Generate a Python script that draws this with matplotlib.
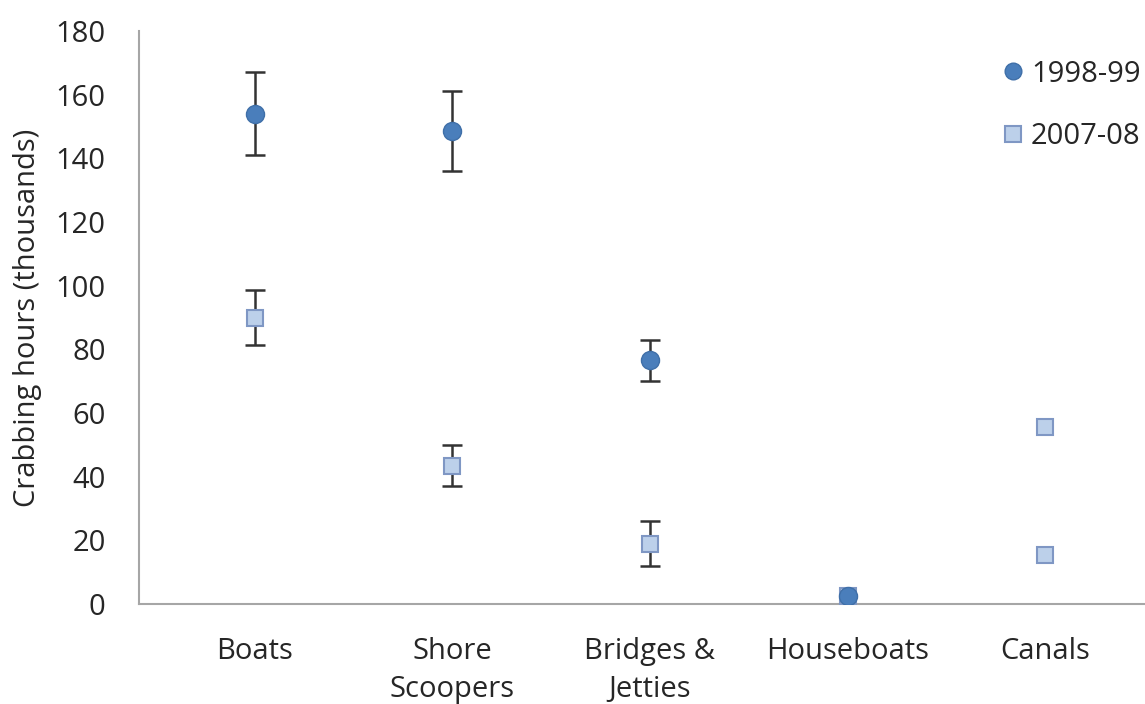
import numpy as np
import matplotlib
matplotlib.use("Agg")
import matplotlib.pyplot as plt
from matplotlib.lines import Line2D

plt.rcParams['font.family'] = ['Open Sans', 'DejaVu Sans']

# Crabbing effort by platform (thousands of hours)
categories = ["Boats", "Shore\nScoopers", "Bridges &\nJetties", "Houseboats", "Canals"]
hours_1998 = [154, 148.5, 76.5, 2.5, np.nan]
err_1998 = [13, 12.6, 6.5, 0, 0]
hours_2007 = [90, 43.5, 19, 2.5, 55.5]
err_2007 = [8.5, 6.5, 7, 0, 0]
canals_extra = [15.5]          # second canal estimate, same marker as 2007-08
yticks = [0, 20, 40, 60, 80, 100, 120, 140, 160, 180]

W, H = 1145, 704
fig = plt.figure(figsize=(W / 100, H / 100), dpi=100)
ax = fig.add_axes([139 / W, 1 - 604 / H, 1 - 139 / W, (604 - 31) / H])

x = np.arange(len(categories))
c_dark = "#4a7ebb"
c_dark_edge = "#3f6fa8"
c_light = "#bcd0ea"
c_light_edge = "#7f97c4"
err_col = "#333333"
txt_col = "#262626"
fs = 21


def draw_errors(vals, errs):
    vals = np.asarray(vals, float)
    errs = np.asarray(errs, float)
    keep = np.isfinite(vals) & (errs > 0)
    ax.errorbar(x[keep], vals[keep], yerr=errs[keep], fmt='none', ecolor=err_col,
                elinewidth=1.8, capsize=7.5, capthick=1.8, zorder=2)


draw_errors(hours_2007, err_2007)
draw_errors(hours_1998, err_1998)

ax.plot(x, hours_2007, 's', ms=12, mfc=c_light, mec=c_light_edge, mew=1.5, zorder=3)
ax.plot([x[-1]] * len(canals_extra), canals_extra, 's', ms=11, mfc=c_light,
        mec=c_light_edge, mew=1.5, zorder=3)
ax.plot(x, hours_1998, 'o', ms=13, mfc=c_dark, mec=c_dark_edge, mew=1, zorder=4)

ax.set_xlim(-0.587, 4.506)
ax.set_ylim(0, 180)
ax.set_yticks(yticks)
ax.set_xticks(x)
ax.set_xticklabels(categories, linespacing=1.38)
ax.tick_params(axis='both', length=0, labelsize=fs, colors=txt_col)
ax.tick_params(axis='x', pad=24)
ax.tick_params(axis='y', pad=24)

for s in ['top', 'right']:
    ax.spines[s].set_visible(False)
for s in ['left', 'bottom']:
    ax.spines[s].set_color("#a6a6a6")
    ax.spines[s].set_linewidth(1.5)

ax.set_ylabel("Crabbing hours (thousands)", fontsize=fs, color=txt_col)
ax.yaxis.set_label_coords(-(139 - 28) / (W - 139), 0.5)
ax.yaxis.label.set_verticalalignment('center')

handles = [
    Line2D([], [], ls='none', marker='o', ms=12, mfc=c_dark, mec=c_dark_edge),
    Line2D([], [], ls='none', marker='s', ms=11, mfc=c_light, mec=c_light_edge, mew=1.5),
]
fig.legend(handles, ["1998-99", "2007-08"], loc='upper left',
           bbox_to_anchor=(990 / W, 1 - 45 / H), frameon=False, fontsize=fs,
           handlelength=0.6, handletextpad=0.3, labelspacing=1.15, borderpad=0,
           labelcolor=txt_col)

fig.savefig("out.png", dpi=100, facecolor="white")
